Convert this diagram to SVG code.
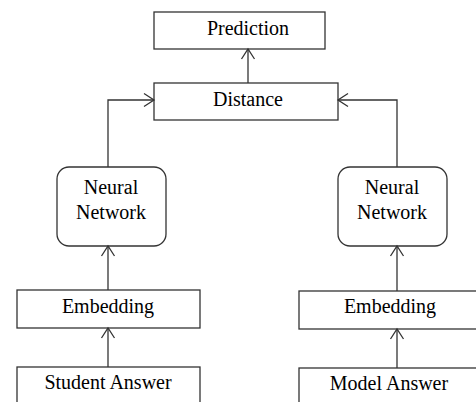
<svg xmlns="http://www.w3.org/2000/svg" width="476" height="402" viewBox="0 0 476 402">
<style>
.box{fill:#fff;stroke:#333;stroke-width:1.3}
.t{font-family:"Liberation Serif","Times New Roman",serif;font-size:20px;fill:#000;text-anchor:middle}
.c{fill:none;stroke:#333;stroke-width:1.3}
</style>
<defs>
<marker id="a" markerUnits="userSpaceOnUse" markerWidth="16" markerHeight="16" viewBox="-12 -8 14 16" refX="0" refY="0" orient="auto">
<path d="M-10,-6.5 L0,0 L-10,6.5" fill="none" stroke="#333" stroke-width="1.3"/>
</marker>
</defs>
<rect width="476" height="402" fill="#fff"/>
<g id="prediction"><rect class="box" x="154" y="12" width="171" height="37"/><text class="t" x="248" y="35">Prediction</text></g>
<g id="distance"><rect class="box" x="154" y="83" width="184" height="37"/><text class="t" x="248" y="106">Distance</text></g>
<g id="nn-left"><rect class="box" x="57" y="167" width="109" height="79" rx="12"/><text class="t" x="111" y="194">Neural</text><text class="t" x="111" y="219">Network</text></g>
<g id="nn-right"><rect class="box" x="338" y="167" width="109" height="79" rx="12"/><text class="t" x="392" y="194">Neural</text><text class="t" x="392" y="219">Network</text></g>
<g id="emb-left"><rect class="box" x="17" y="290" width="183" height="38"/><text class="t" x="108" y="313">Embedding</text></g>
<g id="emb-right"><rect class="box" x="299" y="291" width="183" height="38"/><text class="t" x="390" y="313">Embedding</text></g>
<g id="student"><rect class="box" x="17" y="367" width="183" height="45"/><text class="t" x="108" y="389">Student Answer</text></g>
<g id="model"><rect class="box" x="299" y="368" width="183" height="45"/><text class="t" x="389" y="390">Model Answer</text></g>
<g id="connectors">
<path class="c" d="M248,83 V49" marker-end="url(#a)"/>
<path class="c" d="M108,167 V100 H154" marker-end="url(#a)"/>
<path class="c" d="M397,167 V100 H338" marker-end="url(#a)"/>
<path class="c" d="M108,290 V246" marker-end="url(#a)"/>
<path class="c" d="M108,367 V328" marker-end="url(#a)"/>
<path class="c" d="M397,291 V246" marker-end="url(#a)"/>
<path class="c" d="M397,368 V329" marker-end="url(#a)"/>
</g>
</svg>
